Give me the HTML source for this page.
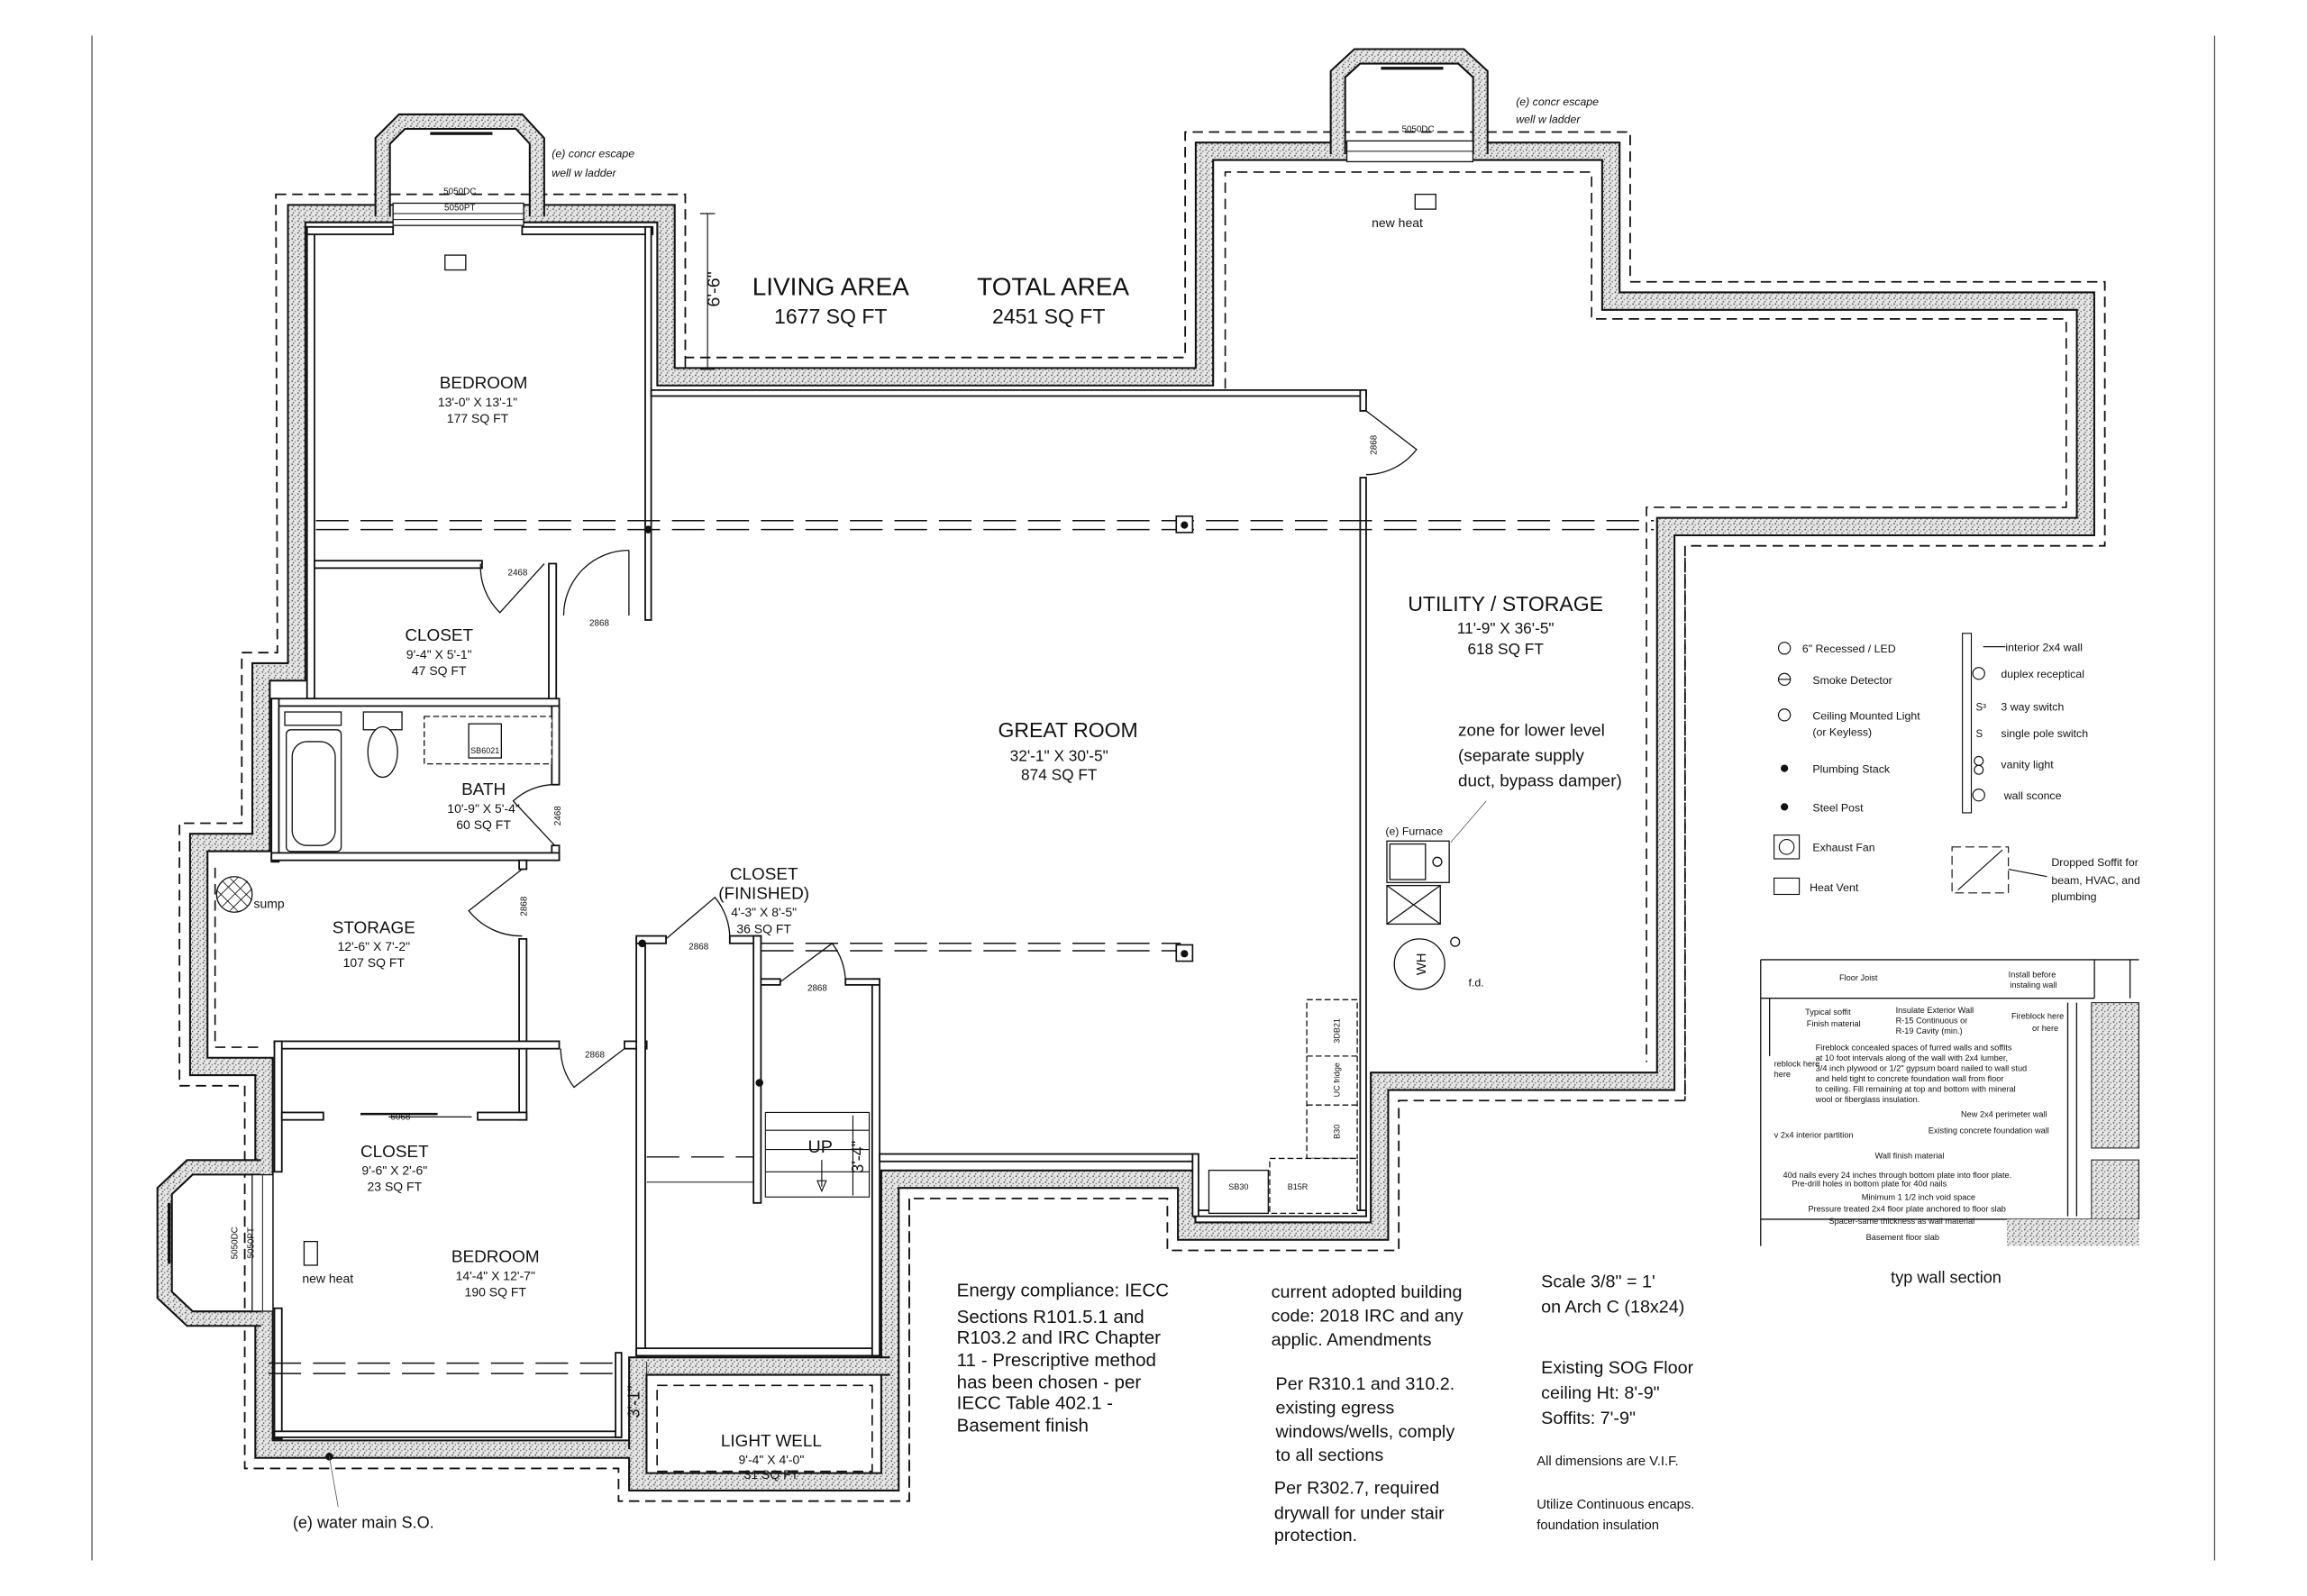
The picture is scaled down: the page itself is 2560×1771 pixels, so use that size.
<!DOCTYPE html>
<html><head><meta charset="utf-8"><style>
html,body{margin:0;padding:0;background:#fff;}
svg{display:block;}
text{font-family:"Liberation Sans",sans-serif;fill:#111;}
.r{font-size:11.5px;text-anchor:middle;}
.s{font-size:8.5px;text-anchor:middle;}
.t{font-size:6px;text-anchor:middle;}
.n{font-family:"Liberation Sans Narrow","Liberation Sans",sans-serif;font-size:12.5px;}
.w{font-size:5.6px;}
.lg{font-size:7.5px;}
</style></head><body>
<svg width="2560" height="1771" viewBox="0 0 1555.3 1076" preserveAspectRatio="none" xmlns="http://www.w3.org/2000/svg">
<defs>
<pattern id="st" width="4" height="4" patternUnits="userSpaceOnUse">
<rect width="4" height="4" fill="#e6e6e6"/>
<circle cx="1" cy="1" r="0.55" fill="#555"/><circle cx="3" cy="2" r="0.5" fill="#777"/><circle cx="1.8" cy="3.4" r="0.45" fill="#444"/>
</pattern>
</defs>
<rect width="1555.3" height="1076" fill="#fff"/>
<line x1="62" y1="24" x2="62" y2="1052" stroke="#555" stroke-width="0.8"/>
<line x1="1493" y1="24" x2="1493" y2="1052" stroke="#555" stroke-width="0.8"/>

<polygon points="186,131 462,131 462,241 799,241 799,89 1099,89 1099,190 1419,190 1419,368 1136,368 1136,742 943,742 943,843 787,843 787,808 613,808 613,1012 417,1012 417,990 165,990 165,732 121,732 121,555 163,555 163,440 187,440" fill="none" stroke="#111" stroke-width="1.1" stroke-dasharray="7,4"/>
<polyline points="462,241 462,249 799,249" fill="none" stroke="#111" stroke-width="1" stroke-dasharray="7,4"/>
<polyline points="826,262 826,116 1073,116 1073,215 1393,215 1393,342 1110,342 1110,716" fill="none" stroke="#111" stroke-width="1" stroke-dasharray="7,4"/>
<polyline points="1136,376 1136,742" fill="none" stroke="#111" stroke-width="1" stroke-dasharray="7,4"/>
<polyline points="613,808 613,1012" fill="none" stroke="#111" stroke-width="1" stroke-dasharray="7,4"/>
<polyline points="145,585 145,706 178,706" fill="none" stroke="#111" stroke-width="1" stroke-dasharray="7,4"/>
<rect x="443" y="934" width="145" height="58" fill="none" stroke="#111" stroke-width="1" stroke-dasharray="7,4"/>

<g fill="none" stroke-linejoin="miter">
<polygon points="200,144 449,144 449,254 812,254 812,102 1086,102 1086,203 1406,203 1406,355 1123,355 1123,729 930,729 930,830 800,830 800,795 600,795 600,999 430,999 430,977 178,977 178,719 134,719 134,568 176,568 176,453 200,453" stroke="#111" stroke-width="13"/>
<polygon points="200,144 449,144 449,254 812,254 812,102 1086,102 1086,203 1406,203 1406,355 1123,355 1123,729 930,729 930,830 800,830 800,795 600,795 600,999 430,999 430,977 178,977 178,719 134,719 134,568 176,568 176,453 200,453" stroke="url(#st)" stroke-width="10.5"/>
<polyline points="430,977 430,921 600,921" stroke="#111" stroke-width="13"/>
<polyline points="430,977 430,921 600,921" stroke="url(#st)" stroke-width="10.5"/>
<polyline points="258,146 258,95 271,82 350,82 362,95 362,146" stroke="#111" stroke-width="11"/>
<polyline points="258,146 258,95 271,82 350,82 362,95 362,146" stroke="url(#st)" stroke-width="8.5"/>
<polyline points="902,104 902,50 915,38 985,38 998,50 998,104" stroke="#111" stroke-width="11"/>
<polyline points="902,104 902,50 915,38 985,38 998,50 998,104" stroke="url(#st)" stroke-width="8.5"/>
<polyline points="176,787 128,787 111,803 111,873 128,889 176,889" stroke="#111" stroke-width="11"/>
<polyline points="176,787 128,787 111,803 111,873 128,889 176,889" stroke="url(#st)" stroke-width="8.5"/>
</g>
<rect x="265" y="137" width="88" height="15" fill="#fff" stroke="#111" stroke-width="0.8"/>
<line x1="265" y1="144" x2="353" y2="144" stroke="#111" stroke-width="0.6"/>
<line x1="265" y1="148" x2="353" y2="148" stroke="#111" stroke-width="0.6"/>
<rect x="908" y="95" width="85" height="14" fill="#fff" stroke="#111" stroke-width="0.8"/>
<line x1="908" y1="102" x2="993" y2="102" stroke="#111" stroke-width="0.6"/>
<rect x="170" y="792" width="14" height="92" fill="#fff" stroke="#111" stroke-width="0.8"/>
<line x1="177" y1="792" x2="177" y2="884" stroke="#111" stroke-width="0.6"/>
<line x1="290" y1="90" x2="332" y2="90" stroke="#111" stroke-width="2"/>
<line x1="931" y1="46" x2="973" y2="46" stroke="#111" stroke-width="2"/>
<line x1="114" y1="811" x2="114" y2="852" stroke="#111" stroke-width="2"/>

<g fill="#fff" stroke="#111" stroke-width="1.1">
<rect x="207" y="153" width="5" height="318"/>
<rect x="207" y="153" width="58" height="5"/>
<rect x="352" y="153" width="88" height="5"/>
<rect x="435" y="153" width="4" height="265"/>
<rect x="439" y="263" width="482" height="4"/>
<rect x="917" y="263" width="4" height="14"/>
<rect x="917" y="322" width="4" height="498"/>
<rect x="806" y="816" width="115" height="4"/>
<rect x="212" y="378" width="113" height="5"/>
<rect x="370" y="380" width="5" height="96"/>
<rect x="183" y="471" width="194" height="5"/>
<rect x="183" y="471" width="5" height="110"/>
<rect x="372" y="476" width="5" height="53"/>
<rect x="372" y="570" width="5" height="10"/>
<rect x="183" y="575" width="194" height="5"/>
<rect x="350" y="580" width="5" height="6"/>
<rect x="350" y="633" width="5" height="122"/>
<rect x="185" y="702" width="192" height="5"/>
<rect x="421" y="702" width="15" height="5"/>
<rect x="185" y="702" width="5" height="88"/>
<rect x="185" y="882" width="5" height="88"/>
<rect x="190" y="750" width="28" height="5"/>
<rect x="322" y="750" width="33" height="5"/>
<rect x="185" y="965" width="234" height="4"/>
<rect x="415" y="912" width="4" height="57"/>
<rect x="429" y="633" width="6" height="281"/>
<rect x="429" y="909" width="164" height="5"/>
<rect x="588" y="660" width="5" height="254"/>
<rect x="429" y="631" width="20" height="5"/>
<rect x="492" y="631" width="21" height="5"/>
<rect x="508" y="631" width="5" height="180"/>
<rect x="513" y="660" width="13" height="4"/>
<rect x="570" y="660" width="23" height="4"/>
<rect x="593" y="778" width="213" height="5"/>
<rect x="804" y="778" width="4" height="42"/>
</g>

<g fill="none" stroke="#111" stroke-width="0.8">
<path d="M424,371 L424,415 M424,371 A44,44 0 0 0 380,415"/>
<path d="M367,380 L337,413 A43,43 0 0 1 324,380"/>
<path d="M374,570 L346,540 A41,41 0 0 1 374,529"/>
<path d="M352,586 L316,614 A45,45 0 0 0 352,631"/>
<path d="M421,707 L387,733 A43,43 0 0 1 378,707"/>
<path d="M449,633 L482,605 A43,43 0 0 1 492,633"/>
<path d="M526,662 L561,636 A44,44 0 0 1 570,662"/>
<path d="M921,277 L955,303 A43,43 0 0 1 921,320"/>
<line x1="243" y1="751" x2="295" y2="751" stroke-width="1.5"/>
<line x1="262" y1="753" x2="318" y2="753"/>
</g>
<g fill="none" stroke="#111" stroke-width="0.9" stroke-dasharray="22,8">
<line x1="213" y1="351" x2="1115" y2="351"/>
<line x1="213" y1="357" x2="1115" y2="357"/>
<line x1="513" y1="636" x2="796" y2="636"/>
<line x1="513" y1="641" x2="796" y2="641"/>
<line x1="181" y1="919" x2="417" y2="919"/>
<line x1="181" y1="926" x2="417" y2="926"/>
<line x1="436" y1="780" x2="508" y2="780"/>
</g>
<line x1="436" y1="797" x2="508" y2="797" stroke="#111" stroke-width="0.6"/>
<rect x="793" y="348" width="11" height="11" fill="#fff" stroke="#111"/><circle cx="798.5" cy="354" r="2.5" fill="#111"/>
<rect x="793" y="637" width="11" height="11" fill="#fff" stroke="#111"/><circle cx="798.5" cy="643" r="2.5" fill="#111"/>
<circle cx="437" cy="357" r="2.6" fill="#111"/><circle cx="433" cy="636" r="2.6" fill="#111"/><circle cx="512" cy="730" r="2.6" fill="#111"/><circle cx="222" cy="982" r="2.6" fill="#111"/>
<line x1="222" y1="982" x2="228" y2="1016" stroke="#555" stroke-width="0.5"/>

<g fill="none" stroke="#111" stroke-width="0.7">
<rect x="516" y="750" width="70" height="57"/>
<line x1="516" y1="762" x2="586" y2="762"/><line x1="516" y1="775" x2="586" y2="775"/><line x1="516" y1="790" x2="586" y2="790"/>
<line x1="554" y1="782" x2="554" y2="800"/><path d="M551,796 L554,803 L557,796 Z"/>
<line x1="575" y1="752" x2="575" y2="806"/>
</g>
<text x="553" y="777" font-size="12" text-anchor="middle">UP</text>
<text transform="translate(582,780) rotate(-90)" font-size="11" text-anchor="middle">3'-4"</text>
<text transform="translate(431,945) rotate(-90)" font-size="11" text-anchor="middle">3'-1"</text>
<line x1="436" y1="918" x2="436" y2="975" stroke="#111" stroke-width="0.6"/>

<g fill="#fff" stroke="#111" stroke-width="0.8">
<rect x="192" y="480" width="38" height="9"/>
<rect x="193" y="492" width="37" height="82" rx="3"/>
<rect x="197" y="500" width="29" height="70" rx="10"/>
<rect x="245" y="480" width="26" height="12"/>
<ellipse cx="258" cy="507" rx="10" ry="17"/>
<rect x="286" y="483" width="86" height="32" stroke-dasharray="4,2"/>
<rect x="316" y="488" width="22" height="23"/>
<circle cx="158" cy="603" r="12"/>
<path d="M150,594 L167,611 M146,600 L161,615 M155,592 L170,607 M150,611 L167,594 M146,606 L161,591 M155,614 L170,599" stroke-width="0.5"/>
<rect x="935" y="567" width="42" height="28"/>
<rect x="937" y="569" width="24" height="24"/>
<circle cx="969" cy="581" r="3"/>
<rect x="935" y="597" width="36" height="26"/>
<path d="M935,597 L971,623 M971,597 L935,623"/>
<circle cx="957" cy="650" r="17"/>
<circle cx="981" cy="635" r="3"/>
<rect x="881" y="674" width="34" height="107" stroke-dasharray="4,2"/>
<line x1="881" y1="712" x2="915" y2="712" stroke-dasharray="4,2"/>
<line x1="881" y1="745" x2="915" y2="745" stroke-dasharray="4,2"/>
<rect x="815" y="789" width="40" height="29"/>
<rect x="856" y="781" width="59" height="37" stroke-dasharray="4,2"/>
<rect x="300" y="172" width="14" height="10"/>
<rect x="954" y="131" width="14" height="10"/>
<rect x="205" y="837" width="9" height="16"/>
</g>
<text transform="translate(961,650) rotate(-90)" font-size="9" text-anchor="middle">WH</text>
<text x="990" y="665" class="lg">f.d.</text>
<text x="934" y="563" class="lg">(e) Furnace</text>
<line x1="978" y1="568" x2="1002" y2="540" stroke="#555" stroke-width="0.5"/>
<text transform="translate(903,695) rotate(-90)" font-size="5.5" text-anchor="middle">3DB21</text>
<text transform="translate(903,728) rotate(-90)" font-size="5.5" text-anchor="middle">UC fridge</text>
<text transform="translate(903,763) rotate(-90)" font-size="5.5" text-anchor="middle">B30</text>
<text x="835" y="802" font-size="5.5" text-anchor="middle">SB30</text>
<text x="868" y="802" font-size="5.5">B15R</text>
<text x="327" y="508" font-size="5.5" text-anchor="middle">SB6021</text>

<text x="404" y="422" class="t">2868</text>
<text x="349" y="388" class="t">2468</text>
<text transform="translate(378,550) rotate(-90)" class="t">2468</text>
<text transform="translate(355,611) rotate(-90)" class="t">2868</text>
<text x="401" y="713" class="t">2868</text>
<text x="471" y="640" class="t">2868</text>
<text x="551" y="668" class="t">2868</text>
<text transform="translate(928,300) rotate(-90)" class="t">2868</text>
<text x="270" y="755" class="t">6068</text>
<text x="310" y="131" class="t">5050DC</text>
<text x="310" y="142" class="t">5050PT</text>
<text x="956" y="89" class="t">5050DC</text>
<text transform="translate(160,838) rotate(-90)" class="t">5050DC</text>
<text transform="translate(171,838) rotate(-90)" class="t">5050PT</text>
<text x="372" y="106" class="lg" font-style="italic">(e) concr escape</text>
<text x="372" y="119" class="lg" font-style="italic">well w ladder</text>
<text x="1022" y="71" class="lg" font-style="italic">(e) concr escape</text>
<text x="1022" y="83" class="lg" font-style="italic">well w ladder</text>
<text x="942" y="153" font-size="8.5" text-anchor="middle">new heat</text>
<text x="221" y="865" font-size="8.5" text-anchor="middle">new heat</text>
<text x="171" y="612" font-size="8.5">sump</text>

<line x1="477" y1="144" x2="477" y2="249" stroke="#111" stroke-width="0.7"/>
<line x1="472" y1="144" x2="482" y2="144" stroke="#111" stroke-width="0.7"/>
<line x1="472" y1="249" x2="482" y2="249" stroke="#111" stroke-width="0.7"/>
<text transform="translate(485,195) rotate(-90)" font-size="12" text-anchor="middle">6'-6"</text>

<text x="560" y="199" font-size="17" text-anchor="middle">LIVING AREA</text>
<text x="560" y="218" font-size="14" text-anchor="middle">1677 SQ FT</text>
<text x="710" y="199" font-size="17" text-anchor="middle">TOTAL AREA</text>
<text x="707" y="218" font-size="14" text-anchor="middle">2451 SQ FT</text>
<text x="326" y="262" class="r">BEDROOM</text><text x="322" y="274" class="s">13'-0" X 13'-1"</text><text x="322" y="285" class="s">177 SQ FT</text>
<text x="296" y="432" class="r">CLOSET</text><text x="296" y="444" class="s">9'-4" X 5'-1"</text><text x="296" y="455" class="s">47 SQ FT</text>
<text x="326" y="536" class="r">BATH</text><text x="326" y="548" class="s">10'-9" X 5'-4"</text><text x="326" y="559" class="s">60 SQ FT</text>
<text x="252" y="629" class="r">STORAGE</text><text x="252" y="641" class="s">12'-6" X 7'-2"</text><text x="252" y="652" class="s">107 SQ FT</text>
<text x="515" y="593" class="r">CLOSET</text><text x="515" y="606" class="r">(FINISHED)</text><text x="515" y="618" class="s">4'-3" X 8'-5"</text><text x="515" y="629" class="s">36 SQ FT</text>
<text x="720" y="497" font-size="14" text-anchor="middle">GREAT ROOM</text><text x="714" y="513" font-size="10.5" text-anchor="middle">32'-1" X 30'-5"</text><text x="714" y="526" font-size="10.5" text-anchor="middle">874 SQ FT</text>
<text x="1015" y="412" font-size="14" text-anchor="middle">UTILITY / STORAGE</text><text x="1015" y="427" font-size="10.5" text-anchor="middle">11'-9" X 36'-5"</text><text x="1015" y="441" font-size="10.5" text-anchor="middle">618 SQ FT</text>
<text x="983" y="496" font-size="11.5">zone for lower level</text>
<text x="983" y="513" font-size="11.5">(separate supply</text>
<text x="983" y="530" font-size="11.5">duct, bypass damper)</text>
<text x="266" y="780" class="r">CLOSET</text><text x="266" y="792" class="s">9'-6" X 2'-6"</text><text x="266" y="803" class="s">23 SQ FT</text>
<text x="334" y="851" class="r">BEDROOM</text><text x="334" y="863" class="s">14'-4" X 12'-7"</text><text x="334" y="874" class="s">190 SQ FT</text>
<text x="520" y="975" class="r">LIGHT WELL</text><text x="520" y="987" class="s">9'-4" X 4'-0"</text><text x="520" y="997" class="s">31 SQ FT</text>
<text x="245" y="1030" font-size="11" text-anchor="middle">(e) water main S.O.</text>

<g class="n">
<text x="645" y="874" class="n">Energy compliance: IECC</text>
<text x="645" y="892" class="n">Sections R101.5.1 and</text>
<text x="645" y="906" class="n">R103.2 and IRC Chapter</text>
<text x="645" y="921" class="n">11  - Prescriptive method</text>
<text x="645" y="936" class="n">has been chosen - per</text>
<text x="645" y="950" class="n">IECC Table 402.1 -</text>
<text x="645" y="965" class="n">Basement finish</text>
</g>
<g font-size="12">
<text x="857" y="875">current adopted building</text>
<text x="857" y="891">code: 2018 IRC and any</text>
<text x="857" y="907">applic. Amendments</text>
<text x="860" y="937">Per R310.1 and 310.2.</text>
<text x="860" y="953">existing egress</text>
<text x="860" y="969">windows/wells, comply</text>
<text x="860" y="985">to all sections</text>
<text x="859" y="1007">Per R302.7, required</text>
<text x="859" y="1024">drywall for under stair</text>
<text x="859" y="1039">protection.</text>
<text x="1039" y="868">Scale 3/8" = 1'</text>
<text x="1039" y="885">on Arch C (18x24)</text>
<text x="1039" y="926">Existing SOG Floor</text>
<text x="1039" y="943">ceiling Ht: 8'-9"</text>
<text x="1039" y="960">Soffits:  7'-9"</text>
</g>
<text x="1036" y="988" font-size="9">All dimensions are V.I.F.</text>
<text x="1036" y="1017" font-size="9">Utilize Continuous encaps.</text>
<text x="1036" y="1031" font-size="9">foundation insulation</text>

<g fill="none" stroke="#111" stroke-width="0.7">
<circle cx="1203" cy="437" r="4"/><circle cx="1203" cy="458" r="4"/><line x1="1199" y1="458" x2="1207" y2="458"/>
<circle cx="1203" cy="482" r="4"/>
<rect x="1196" y="563" width="17" height="16"/><circle cx="1204.5" cy="571" r="5"/>
<rect x="1196" y="592" width="17" height="11"/>
<rect x="1323" y="427" width="6" height="121"/>
<line x1="1337" y1="436" x2="1352" y2="436"/>
<circle cx="1334" cy="454" r="4"/><circle cx="1334" cy="513" r="3"/><circle cx="1334" cy="519" r="3"/><circle cx="1334" cy="536" r="4"/>
<rect x="1316" y="571" width="38" height="31" stroke-dasharray="6,3"/>
<line x1="1320" y1="600" x2="1350" y2="573"/>
<line x1="1354" y1="586" x2="1380" y2="591"/>
</g>
<circle cx="1203" cy="518" r="2.5" fill="#111"/><circle cx="1203" cy="544" r="2.5" fill="#111"/>
<text x="1332" y="479" font-size="7">S³</text><text x="1332" y="497" font-size="7">S</text>
<g class="lg">
<text x="1215" y="440">6" Recessed / LED</text>
<text x="1222" y="461">Smoke Detector</text>
<text x="1222" y="485">Ceiling Mounted Light</text>
<text x="1222" y="496">(or Keyless)</text>
<text x="1222" y="521">Plumbing Stack</text>
<text x="1222" y="547">Steel Post</text>
<text x="1222" y="574">Exhaust Fan</text>
<text x="1220" y="601">Heat Vent</text>
<text x="1352" y="439">interior 2x4 wall</text>
<text x="1349" y="457">duplex receptical</text>
<text x="1349" y="479">3 way switch</text>
<text x="1349" y="497">single pole switch</text>
<text x="1349" y="518">vanity light</text>
<text x="1351" y="539">wall sconce</text>
<text x="1383" y="584">Dropped Soffit for</text>
<text x="1383" y="596">beam, HVAC, and</text>
<text x="1383" y="607">plumbing</text>
</g>

<g fill="none" stroke="#111" stroke-width="0.8">
<line x1="1187" y1="647" x2="1442" y2="647"/>
<line x1="1187" y1="673" x2="1412" y2="673"/>
<line x1="1187" y1="647" x2="1187" y2="840"/>
<line x1="1193" y1="673" x2="1193" y2="712"/>
<line x1="1412" y1="647" x2="1412" y2="673"/>
<line x1="1436" y1="647" x2="1436" y2="673"/>
<line x1="1394" y1="676" x2="1394" y2="820"/>
<line x1="1400" y1="676" x2="1400" y2="820"/>
<line x1="1187" y1="822" x2="1442" y2="822"/>
</g>
<rect x="1410" y="676" width="32" height="98" fill="url(#st)" stroke="#111" stroke-width="0.6"/>
<rect x="1410" y="782" width="32" height="40" fill="url(#st)" stroke="#111" stroke-width="0.6"/>
<rect x="1353" y="822" width="89" height="18" fill="url(#st)" stroke="none"/>
<g class="w">
<text x="1240" y="661">Floor Joist</text>
<text x="1354" y="659">Install before</text><text x="1355" y="666">instaling wall</text>
<text x="1217" y="684">Typical soffit</text><text x="1218" y="692">Finish material</text>
<text x="1278" y="683">Insulate Exterior Wall</text><text x="1278" y="690">R-15 Continuous or</text><text x="1278" y="697">R-19 Cavity (min.)</text>
<text x="1356" y="687">Fireblock here</text><text x="1370" y="695">or here</text>
<text x="1224" y="708">Fireblock concealed spaces of furred walls and soffits</text>
<text x="1224" y="715">at 10 foot intervals along of the wall with 2x4 lumber,</text>
<text x="1224" y="722">3/4 inch plywood or 1/2" gypsum board nailed to wall stud</text>
<text x="1224" y="729">and held tight to concrete foundation wall from floor</text>
<text x="1224" y="736">to ceiling. Fill remaining at top and bottom with mineral</text>
<text x="1224" y="743">wool or fiberglass insulation.</text>
<text x="1196" y="719">reblock here</text><text x="1196" y="726">here</text>
<text x="1322" y="753">New 2x4 perimeter wall</text>
<text x="1300" y="764">Existing concrete foundation wall</text>
<text x="1196" y="767">v 2x4 interior partition</text>
<text x="1264" y="781">Wall finish material</text>
<text x="1202" y="794">40d nails every 24 inches through bottom plate into floor plate.</text>
<text x="1208" y="800">Pre-drill holes in bottom plate for 40d nails</text>
<text x="1255" y="809">Minimum 1 1/2 inch void space</text>
<text x="1219" y="817">Pressure treated 2x4 floor plate anchored to floor slab</text>
<text x="1233" y="825">Spacer-same thickness as wall material</text>
<text x="1258" y="836">Basement floor slab</text>
</g>
<text x="1312" y="865" font-size="11" text-anchor="middle">typ wall section</text>
</svg>
</body></html>
